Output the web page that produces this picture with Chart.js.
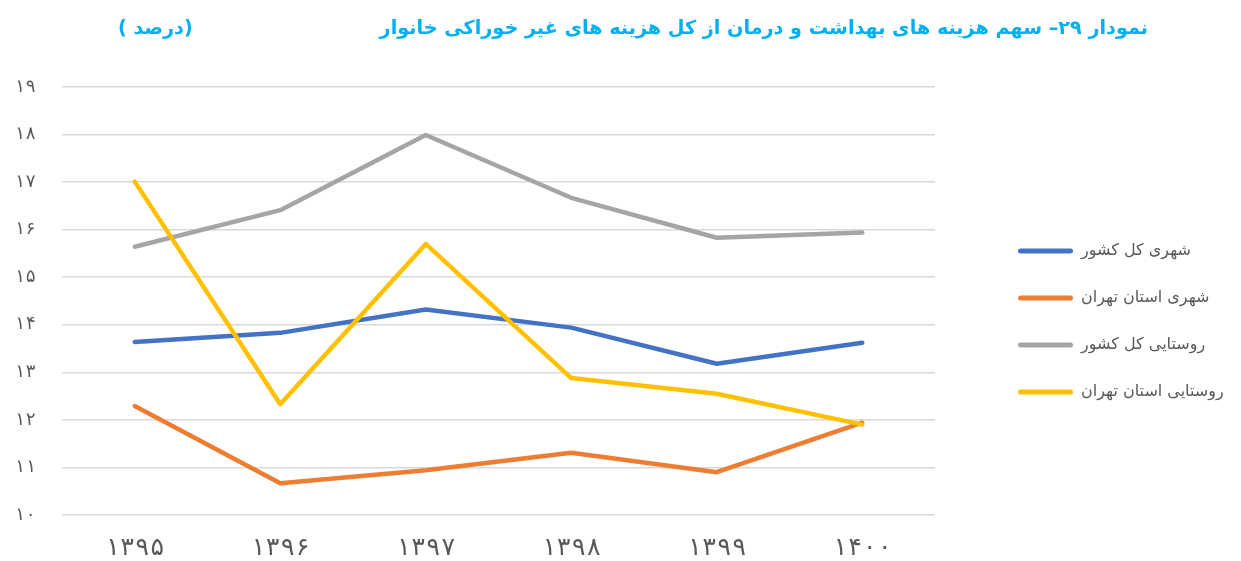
<!DOCTYPE html>
<html>
<head>
<meta charset="utf-8">
<script src="https://cdn.jsdelivr.net/npm/chart.js@4.4.1/dist/chart.umd.min.js"></script>
<style>
  html, body { margin: 0; padding: 0; background: #ffffff; }
  #wrap { width: 1241px; height: 561px; }
</style>
</head>
<body>
<div id="wrap"><canvas id="c" width="1241" height="561"></canvas></div>
<script>
// ---- data ----
const categories = ['۱۳۹۵', '۱۳۹۶', '۱۳۹۷', '۱۳۹۸', '۱۳۹۹', '۱۴۰۰'];
const seriesNames = ['شهری کل کشور', 'شهری استان تهران', 'روستایی کل کشور', 'روستایی استان تهران'];
const urbanCountry = [13.64, 13.83, 14.32, 13.94, 13.18, 13.62];
const urbanTehran  = [12.29, 10.67, 10.94, 11.31, 10.90, 11.94];
const ruralCountry = [15.64, 16.41, 17.99, 16.67, 15.83, 15.94];
const ruralTehran  = [17.01, 12.33, 15.70, 12.88, 12.55, 11.90];
const yTickLabels = ['۱۰', '۱۱', '۱۲', '۱۳', '۱۴', '۱۵', '۱۶', '۱۷', '۱۸', '۱۹'];
const titleText = 'نمودار ۲۹– سهم هزینه های بهداشت و درمان از کل هزینه های غیر خوراکی خانوار';
const unitText = '\u2066( درصد)\u2069';

const colors = ['#4472C4', '#ED7D31', '#A5A5A5', '#FFC000'];
const seriesValues = [urbanCountry, urbanTehran, ruralCountry, ruralTehran];
const FONT = '"DejaVu Sans", "Noto Sans", sans-serif';
const MONO = '"DejaVu Sans Mono", "DejaVu Sans", sans-serif';
const TICK_COLOR = '#595959';

const titlePlugin = {
  id: 'customTitle',
  afterInit(chart) {
    const lg = chart.legend;
    if (lg) {
      const orig = lg.fit.bind(lg);
      lg.fit = function () { orig(); this.width = 1241 - 935; };
    }
  },
  afterLayout(chart) {
    const lg = chart.legend;
    if (lg) {
      lg.left = 987;
      lg.right = lg.left + lg.width;
      lg.top = 212;
    }
  },
  afterDraw(chart) {
    const ctx = chart.ctx;
    ctx.save();
    ctx.fillStyle = '#00B0F0';
    ctx.font = 'bold 19.2px ' + FONT;
    ctx.textBaseline = 'middle';
    ctx.direction = 'rtl';
    ctx.textAlign = 'right';
    ctx.fillText(titleText, 1148, 29);
    ctx.restore();

    ctx.save();
    ctx.fillStyle = '#00B0F0';
    ctx.font = 'bold 19.2px ' + FONT;
    ctx.textBaseline = 'middle';
    ctx.direction = 'ltr';
    ctx.textAlign = 'left';
    ctx.fillText(unitText, 118, 29);
    ctx.restore();
  }
};

new Chart(document.getElementById('c'), {
  type: 'line',
  data: {
    labels: categories,
    datasets: seriesValues.map((vals, i) => ({
      label: seriesNames[i],
      data: vals,
      borderColor: colors[i],
      backgroundColor: colors[i],
      borderWidth: 4.5,
      borderCapStyle: 'round',
      borderJoinStyle: 'round',
      pointRadius: 0,
      pointHoverRadius: 0,
      tension: 0,
      fill: false,
      order: 3 - i
    }))
  },
  options: {
    responsive: false,
    animation: false,
    devicePixelRatio: 1,
    layout: { padding: { top: 87, right: 0, bottom: 0, left: 0 } },
    plugins: {
      title: { display: false },
      tooltip: { enabled: false },
      legend: {
        display: true,
        position: 'right',
        align: 'start',
        labels: {
          boxWidth: 55,
          boxHeight: 5,
          padding: 31,
          color: TICK_COLOR,
          font: { family: FONT, size: 16 },
          generateLabels: (chart) => chart.data.datasets.map((ds, i) => ({
            text: ds.label,
            fillStyle: ds.borderColor,
            strokeStyle: ds.borderColor,
            lineWidth: 0,
            borderRadius: 2.5,
            hidden: false,
            datasetIndex: i,
            fontColor: TICK_COLOR
          }))
        }
      }
    },
    scales: {
      x: {
        offset: true,
        grid: { display: false, drawTicks: false },
        border: { display: false },
        ticks: {
          color: TICK_COLOR,
          font: { family: MONO, size: 25 },
          padding: 18,
          maxRotation: 0
        },
        afterFit(scale) { scale.height = 46; }
      },
      y: {
        min: 10,
        max: 19,
        grid: { color: '#D9D9D9', lineWidth: 1.5, drawTicks: false },
        border: { display: false },
        ticks: {
          stepSize: 1,
          color: TICK_COLOR,
          font: { family: MONO, size: 18 },
          padding: 26,
          callback: (v) => yTickLabels[Math.round(v) - 10]
        },
        afterFit(scale) { scale.width = 62; }
      }
    }
  },
  plugins: [titlePlugin]
});
</script>
</body>
</html>
